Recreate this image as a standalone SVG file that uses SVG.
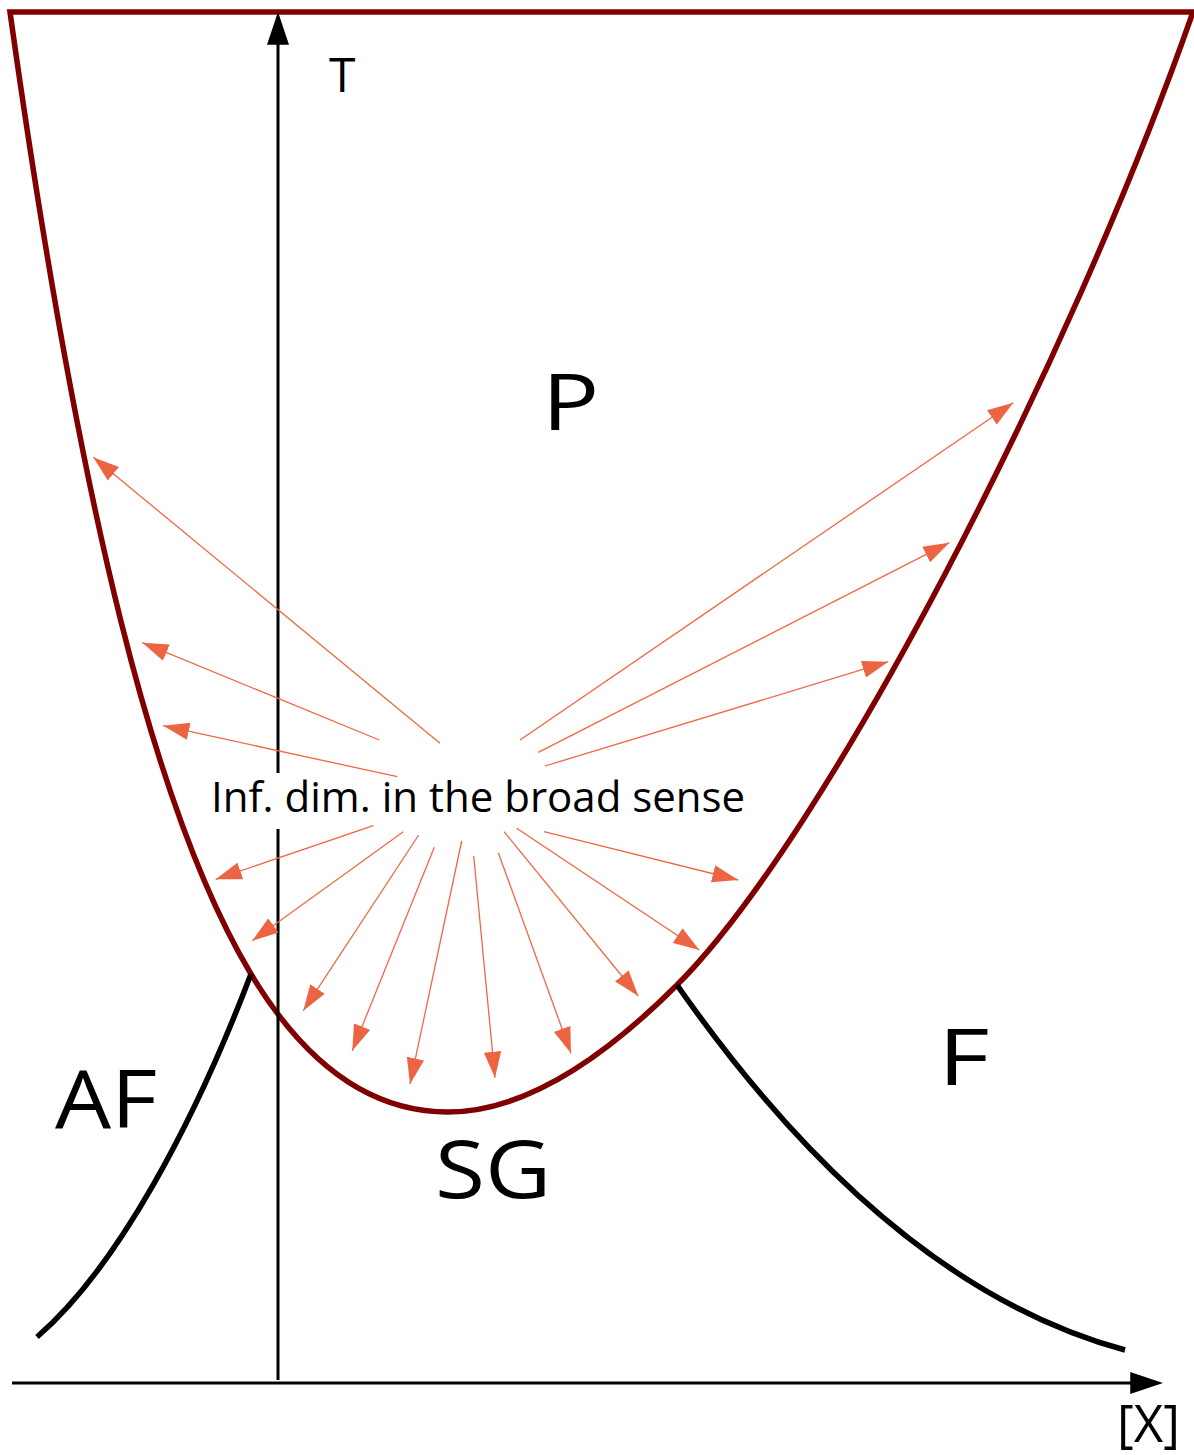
<svg xmlns="http://www.w3.org/2000/svg" width="1194" height="1455" viewBox="0 0 1194 1455">
  <style>
    .lbl { font-family: "Open Sans", "Liberation Sans", sans-serif; fill: #000; }
    .ray { stroke: #ee6846; stroke-width: 1.3; fill: none; marker-end: url(#rh); }
    .axis { stroke: #000; stroke-width: 3; fill: none; }
    .phase { stroke: #000; stroke-width: 5.5; fill: none; }
  </style>
  <defs>
    <marker id="rh" markerUnits="userSpaceOnUse" markerWidth="26" markerHeight="18" viewBox="0 0 25 16.8" refX="25" refY="8.4" orient="auto">
      <path d="M0,0 L25,8.4 L0,16.8 Z" fill="#ec6442"/>
    </marker>
    <marker id="ah" markerUnits="userSpaceOnUse" markerWidth="33" markerHeight="22" viewBox="0 0 32 21.4" refX="27" refY="10.7" orient="auto">
      <path d="M0,0 L32,10.7 L0,21.4 Z" fill="#000"/>
    </marker>
  </defs>

  <g id="paramagnetic-boundary">
    <path d="M10,12 C80,512 155,814 251,974 C306.2,1066 371.9,1112 448,1112 C516,1112 592.3,1069.7 677,985 C827,835 1070.5,362 1193,12 Z" fill="none" stroke="#800000" stroke-width="5.5" stroke-linejoin="miter"/>
  </g>

  <g id="af-boundary">
    <path class="phase" d="M251,974 C194,1124 117,1268 37,1337"/>
  </g>
  <g id="f-boundary">
    <path class="phase" d="M677,985 C775,1125 925,1296 1125,1350"/>
  </g>

  <g id="axes">
    <path class="axis" d="M278,1380 V829 M278,773 V17" marker-end="url(#ah)"/>
    <path class="axis" d="M12,1383 H1158" marker-end="url(#ah)"/>
  </g>

  <g id="connectors">
    <line class="ray" x1="440" y1="743.3" x2="93.3" y2="457.3"/>
    <line class="ray" x1="379.3" y1="740" x2="142.3" y2="642.7"/>
    <line class="ray" x1="397.3" y1="776.7" x2="163.3" y2="725.7"/>
    <line class="ray" x1="520" y1="740" x2="1013.3" y2="402.7"/>
    <line class="ray" x1="538.3" y1="752.3" x2="949.3" y2="542.7"/>
    <line class="ray" x1="545" y1="766" x2="888.3" y2="661.7"/>
    <line class="ray" x1="373.3" y1="825.7" x2="215.7" y2="879.3"/>
    <line class="ray" x1="403.3" y1="831.7" x2="252.3" y2="940.7"/>
    <line class="ray" x1="418.7" y1="835" x2="303.3" y2="1010.7"/>
    <line class="ray" x1="434.3" y1="847.3" x2="352.3" y2="1050.7"/>
    <line class="ray" x1="461.7" y1="841" x2="410" y2="1084"/>
    <line class="ray" x1="473.7" y1="856" x2="495" y2="1077.7"/>
    <line class="ray" x1="498.3" y1="852.7" x2="571" y2="1053.3"/>
    <line class="ray" x1="504" y1="831.7" x2="638.3" y2="996"/>
    <line class="ray" x1="516.7" y1="828.3" x2="699.3" y2="950"/>
    <line class="ray" x1="544" y1="831.7" x2="738.3" y2="880"/>
  </g>

  <g id="label-T"><text class="lbl" x="329" y="92" font-size="48">T</text></g>
  <g id="label-X"><text class="lbl" x="1117" y="1442" font-size="51">[X]</text></g>
  <g id="label-P"><text class="lbl" transform="translate(542,430) scale(1.22,1)" font-size="78">P</text></g>
  <g id="label-AF"><text class="lbl" transform="translate(55,1128) scale(1.11,1)" font-size="80">AF</text></g>
  <g id="label-SG"><text class="lbl" transform="translate(435,1198) scale(1.14,1)" font-size="80">SG</text></g>
  <g id="label-F"><text class="lbl" transform="translate(938,1085) scale(1.28,1)" font-size="78">F</text></g>
  <g id="label-inf"><text class="lbl" x="211" y="812" font-size="42">Inf. dim. in the broad sense</text></g>
</svg>
